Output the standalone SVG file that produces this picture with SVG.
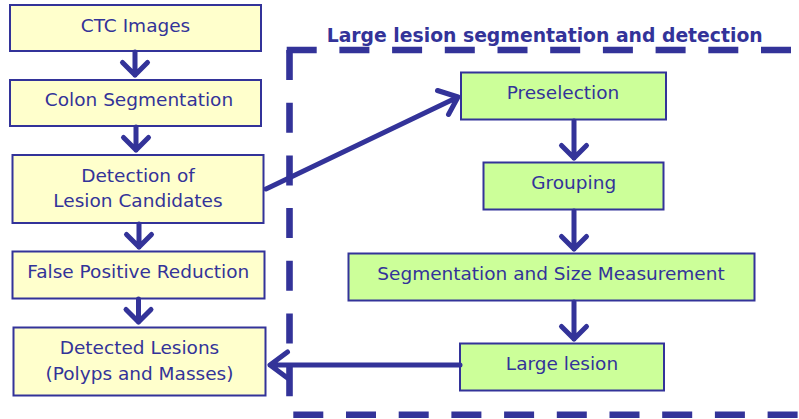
<svg xmlns="http://www.w3.org/2000/svg" width="799" height="419" viewBox="0 0 799 419">
<style>
.box{stroke:#333399;stroke-width:2}
.y{fill:#FFFFCC}
.g{fill:#CCFF99}
text{font-family:"DejaVu Sans",Verdana,sans-serif;font-size:18.5px;fill:#333399;text-anchor:middle}
.title{font-weight:bold;font-size:18.8px;text-anchor:start}
.dash{stroke:#333399;stroke-width:6.6;fill:none;stroke-dasharray:30 22.7}
.conn{stroke:#333399;stroke-width:5;fill:none;stroke-linecap:round;stroke-linejoin:round}
</style>
<rect width="799" height="419" fill="#fff"/>
<g id="frame">
<line class="dash" x1="286.7" y1="50" x2="805" y2="50"/>
<line class="dash" x1="289.5" y1="50" x2="289.5" y2="419"/>
<line class="dash" x1="293.3" y1="414.7" x2="805" y2="414.7"/>
<text class="title" x="326.7" y="42" textLength="436" lengthAdjust="spacingAndGlyphs">Large lesion segmentation and detection</text>
</g>
<g id="ctc"><rect class="box y" x="10" y="5" width="251" height="46"/><text x="135.5" y="31.5">CTC Images</text></g>
<g id="colon"><rect class="box y" x="10" y="80" width="251" height="46"/><text x="139" y="106">Colon Segmentation</text></g>
<g id="detect"><rect class="box y" x="12.5" y="155" width="251" height="68"/><text x="138" y="181.5">Detection of</text><text x="138" y="206.5">Lesion Candidates</text></g>
<g id="fpr"><rect class="box y" x="12.5" y="251.5" width="252" height="47"/><text x="138.3" y="277.5">False Positive Reduction</text></g>
<g id="detected"><rect class="box y" x="13.5" y="327.5" width="252" height="68"/><text x="139.5" y="354">Detected Lesions</text><text x="139.5" y="380">(Polyps and Masses)</text></g>
<g id="presel"><rect class="box g" x="461" y="72.5" width="205" height="47"/><text x="563" y="99">Preselection</text></g>
<g id="grouping"><rect class="box g" x="483.5" y="162.5" width="180" height="47"/><text x="573.7" y="189">Grouping</text></g>
<g id="segsize"><rect class="box g" x="348.5" y="253.5" width="406" height="47"/><text x="551" y="279.5">Segmentation and Size Measurement</text></g>
<g id="large"><rect class="box g" x="460" y="343.5" width="204" height="47"/><text x="562" y="370">Large lesion</text></g>
<g id="connectors">
<path class="conn" d="M135 52V75M122.5 62.5L135 75L147.5 62.5"/>
<path class="conn" d="M136 127V150M123.5 137.5L136 150L148.5 137.5"/>
<path class="conn" d="M139 224V247M126.5 234.5L139 247L151.5 234.5"/>
<path class="conn" d="M138.5 299V322M126 309.5L138.5 322L151 309.5"/>
<path class="conn" d="M574 121V158M561.5 145.5L574 158L586.5 145.5"/>
<path class="conn" d="M574 211V249M561.5 236.5L574 249L586.5 236.5"/>
<path class="conn" d="M574 302V339M561.5 326.5L574 339L586.5 326.5"/>
<path class="conn" d="M266 189L458 97M437.5 90.5L458 97L448.5 114.5" stroke-linecap="butt"/>
<path class="conn" d="M460 365H270M287.5 352L270 365L287.5 378" stroke-linecap="butt"/>
</g>
</svg>
